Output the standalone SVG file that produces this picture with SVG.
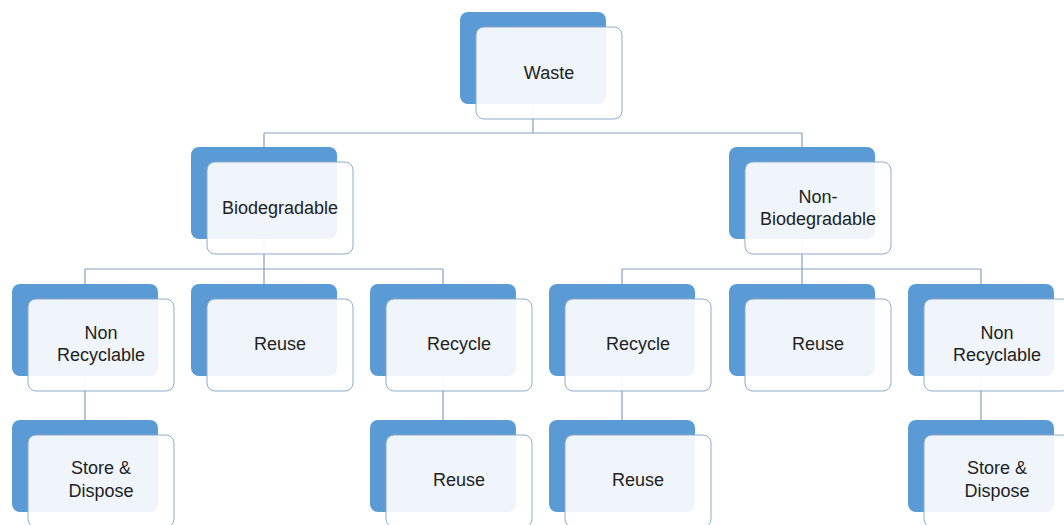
<svg xmlns="http://www.w3.org/2000/svg" width="1064" height="525" viewBox="0 0 1064 525">
  <style>
    .back { fill: #5b9bd5; }
    .front { fill: #ffffff; fill-opacity: 0.9; stroke: #8eabc9; stroke-width: 1; }
    .label { font-family: "Liberation Sans", Arial, sans-serif; font-size: 18px; fill: #222222; text-anchor: middle; dominant-baseline: central; }
    .conn { fill: none; stroke: #86a0bb; stroke-width: 1.2; }
  </style>
  <defs>
    <g id="card">
      <rect class="back" x="0" y="0" width="146" height="92" rx="8" ry="8"/>
      <rect class="front" x="16" y="15" width="146" height="92" rx="8" ry="8"/>
    </g>
  </defs>
  <rect width="1064" height="525" fill="#ffffff"/>

  <!-- tree connectors, drawn below the cards -->
  <g id="connectors">
    <path class="conn" d="M533 103 V133 M264 133 H802 M264 133 V147 M802 133 V147"/>
    <path class="conn" d="M264 239 V269 M85 269 H443 M85 269 V284 M264 269 V284 M443 269 V284"/>
    <path class="conn" d="M802 239 V269 M622 269 H981 M622 269 V284 M802 269 V284 M981 269 V284"/>
    <path class="conn" d="M85 375 V420 M443 375 V420 M622 375 V420 M981 375 V420"/>
  </g>

  <g id="waste" transform="translate(460,12)">
    <use href="#card"/>
    <text class="label" x="89" y="61">Waste</text>
  </g>

  <g id="biodegradable" transform="translate(191,147)">
    <use href="#card"/>
    <text class="label" x="89" y="61">Biodegradable</text>
  </g>

  <g id="non-biodegradable" transform="translate(729,147)">
    <use href="#card"/>
    <text class="label" x="89" y="50">Non-</text>
    <text class="label" x="89" y="72">Biodegradable</text>
  </g>

  <g id="bio-non-recyclable" transform="translate(12,284)">
    <use href="#card"/>
    <text class="label" x="89" y="49">Non</text>
    <text class="label" x="89" y="71">Recyclable</text>
  </g>

  <g id="bio-reuse" transform="translate(191,284)">
    <use href="#card"/>
    <text class="label" x="89" y="60">Reuse</text>
  </g>

  <g id="bio-recycle" transform="translate(370,284)">
    <use href="#card"/>
    <text class="label" x="89" y="60">Recycle</text>
  </g>

  <g id="nonbio-recycle" transform="translate(549,284)">
    <use href="#card"/>
    <text class="label" x="89" y="60">Recycle</text>
  </g>

  <g id="nonbio-reuse" transform="translate(729,284)">
    <use href="#card"/>
    <text class="label" x="89" y="60">Reuse</text>
  </g>

  <g id="nonbio-non-recyclable" transform="translate(908,284)">
    <use href="#card"/>
    <text class="label" x="89" y="49">Non</text>
    <text class="label" x="89" y="71">Recyclable</text>
  </g>

  <g id="bio-store-dispose" transform="translate(12,420)">
    <use href="#card"/>
    <text class="label" x="89" y="48">Store &amp;</text>
    <text class="label" x="89" y="71">Dispose</text>
  </g>

  <g id="bio-recycle-reuse" transform="translate(370,420)">
    <use href="#card"/>
    <text class="label" x="89" y="60">Reuse</text>
  </g>

  <g id="nonbio-recycle-reuse" transform="translate(549,420)">
    <use href="#card"/>
    <text class="label" x="89" y="60">Reuse</text>
  </g>

  <g id="nonbio-store-dispose" transform="translate(908,420)">
    <use href="#card"/>
    <text class="label" x="89" y="48">Store &amp;</text>
    <text class="label" x="89" y="71">Dispose</text>
  </g>
</svg>
